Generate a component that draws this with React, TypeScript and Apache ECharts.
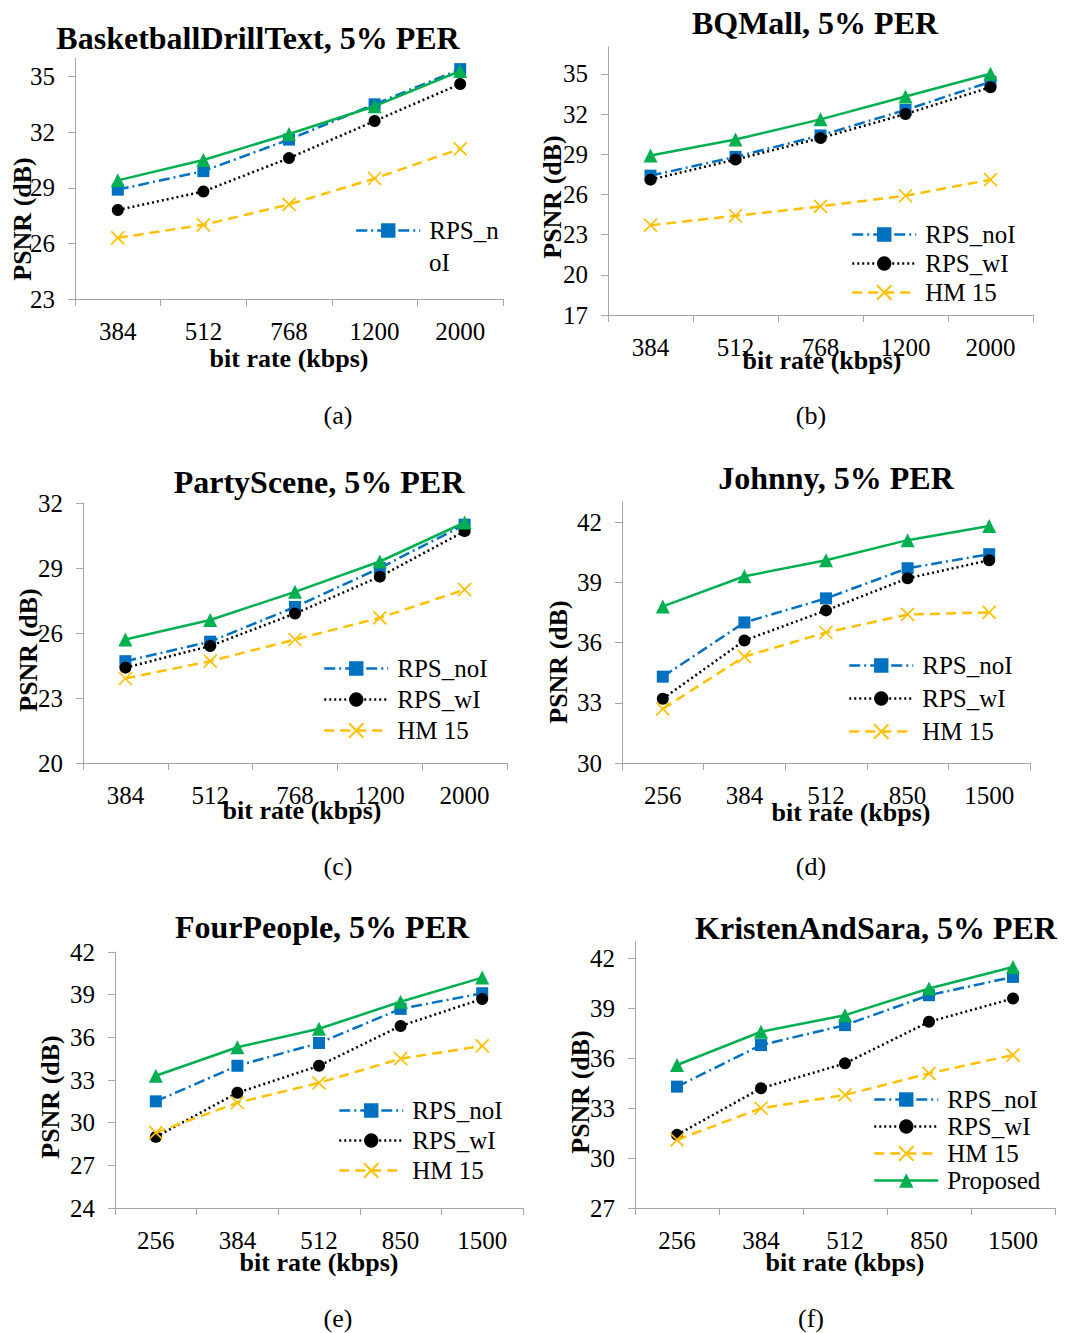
import React, { useEffect, useRef } from "react";
import * as echarts from "echarts";

// ---------- data ----------
const seriesNames = ["RPS_noI", "RPS_wI", "HM 15", "Proposed"];
const ratesHigh = ["384", "512", "768", "1200", "2000"];
const ratesLow = ["256", "384", "512", "850", "1500"];

const titles = [
  "BasketballDrillText, 5% PER",
  "BQMall, 5% PER",
  "PartyScene, 5% PER",
  "Johnny, 5% PER",
  "FourPeople, 5% PER",
  "KristenAndSara, 5% PER",
];
const captions = ["(a)", "(b)", "(c)", "(d)", "(e)", "(f)"];

// (a) BasketballDrillText
const aNoI = [28.9, 29.9, 31.6, 33.5, 35.4];
const aWI = [27.8, 28.8, 30.6, 32.6, 34.6];
const aHM = [26.3, 27.0, 28.1, 29.5, 31.1];
const aProp = [29.4, 30.5, 31.9, 33.4, 35.3];
const aTicks = [23, 26, 29, 32, 35];
// (b) BQMall
const bNoI = [27.4, 28.8, 30.4, 32.3, 34.4];
const bWI = [27.1, 28.6, 30.2, 32.0, 34.0];
const bHM = [23.7, 24.4, 25.1, 25.9, 27.1];
const bProp = [28.9, 30.1, 31.6, 33.3, 35.0];
const bTicks = [17, 20, 23, 26, 29, 32, 35];
// (c) PartyScene
const cNoI = [24.7, 25.6, 27.2, 29.0, 31.0];
const cWI = [24.4, 25.4, 26.9, 28.6, 30.7];
const cHM = [23.9, 24.7, 25.7, 26.7, 28.0];
const cProp = [25.7, 26.6, 27.9, 29.3, 31.1];
const cTicks = [20, 23, 26, 29, 32];
// (d) Johnny
const dNoI = [34.3, 37.0, 38.2, 39.7, 40.4];
const dWI = [33.2, 36.1, 37.6, 39.2, 40.1];
const dHM = [32.7, 35.3, 36.5, 37.4, 37.5];
const dProp = [37.8, 39.3, 40.1, 41.1, 41.8];
const dTicks = [30, 33, 36, 39, 42];
// (e) FourPeople
const eNoI = [31.5, 34.0, 35.6, 38.0, 39.1];
const eWI = [29.0, 32.1, 34.0, 36.8, 38.7];
const eHM = [29.3, 31.4, 32.8, 34.5, 35.4];
const eProp = [33.3, 35.3, 36.6, 38.5, 40.2];
const eTicks = [24, 27, 30, 33, 36, 39, 42];
// (f) KristenAndSara
const fNoI = [34.3, 36.8, 38.0, 39.8, 40.9];
const fWI = [31.4, 34.2, 35.7, 38.2, 39.6];
const fHM = [31.1, 33.0, 33.8, 35.1, 36.2];
const fProp = [35.6, 37.6, 38.6, 40.2, 41.5];
const fTicks = [27, 30, 33, 36, 39, 42];

const yRanges = [
  [23, 36],
  [17, 37],
  [20, 32],
  [30, 43],
  [24, 42],
  [27, 43],
];

// ---------- layout (not data) ----------
const FONT = '"Liberation Serif", "Times New Roman", serif';
const AXIS_GRAY = "#A6A6A6";

const panels = [
  {
    cats: ratesHigh, vals: [aNoI, aWI, aHM, aProp], ticks: aTicks,
    grid: { left: 75, top: 58, width: 428, height: 241 },
    titlePos: [258, 38], yNamePos: [22, 219], xNamePos: [289, 358], capPos: [338, 415],
    legend: { left: 350, top: 213, gap: 4, items: ["RPS_noI"] },
  },
  {
    cats: ratesHigh, vals: [bNoI, bWI, bHM, bProp], ticks: bTicks,
    grid: { left: 608, top: 47, width: 425, height: 268 },
    titlePos: [815, 23], yNamePos: [552, 197], xNamePos: [822, 360], capPos: [811, 415],
    legend: { left: 846, top: 217, gap: 4, items: ["RPS_noI", "RPS_wI", "HM 15"] },
  },
  {
    cats: ratesHigh, vals: [cNoI, cWI, cHM, cProp], ticks: cTicks,
    grid: { left: 83, top: 503, width: 424, height: 260 },
    titlePos: [319, 482], yNamePos: [28, 650], xNamePos: [302, 810], capPos: [338, 866],
    legend: { left: 318, top: 651, gap: 6, items: ["RPS_noI", "RPS_wI", "HM 15"] },
  },
  {
    cats: ratesLow, vals: [dNoI, dWI, dHM, dProp], ticks: dTicks,
    grid: { left: 622, top: 502, width: 408, height: 261 },
    titlePos: [836, 478], yNamePos: [558, 662], xNamePos: [851, 812], capPos: [811, 866],
    legend: { left: 843, top: 648, gap: 8, items: ["RPS_noI", "RPS_wI", "HM 15"] },
  },
  {
    cats: ratesLow, vals: [eNoI, eWI, eHM, eProp], ticks: eTicks,
    grid: { left: 115, top: 952, width: 408, height: 256 },
    titlePos: [322, 927], yNamePos: [50, 1097], xNamePos: [319, 1262], capPos: [338, 1318],
    legend: { left: 333, top: 1093, gap: 5, items: ["RPS_noI", "RPS_wI", "HM 15"] },
  },
  {
    cats: ratesLow, vals: [fNoI, fWI, fHM, fProp], ticks: fTicks,
    grid: { left: 635, top: 942, width: 420, height: 266 },
    titlePos: [876, 928], yNamePos: [580, 1092], xNamePos: [845, 1262], capPos: [811, 1318],
    legend: { left: 868, top: 1082, gap: 2, items: ["RPS_noI", "RPS_wI", "HM 15", "Proposed"] },
  },
];

const styles = [
  {
    color: "#0070C0", symbol: "rect", symbolSize: 12,
    lineType: [11, 4, 2, 4], width: 2.5,
  },
  {
    color: "#000000", symbol: "circle", symbolSize: 12,
    lineType: [2, 3], width: 2.5,
  },
  {
    color: "#FFC000", symbol: "path://M0 0L10 10M10 0L0 10", symbolSize: 13,
    lineType: [10, 6], width: 2.5,
  },
  {
    color: "#00B050", symbol: "triangle", symbolSize: 14,
    lineType: "solid", width: 2.5,
  },
];

function txt(text: string, pos: number[], font: string, extra: any = {}) {
  return {
    type: "text",
    x: pos[0],
    y: pos[1],
    ...extra,
    style: {
      text,
      font,
      fill: "#000",
      textAlign: extra.align || "center",
      textVerticalAlign: "middle",
      align: extra.align || "center",
      verticalAlign: "middle",
    },
  };
}

function buildOption() {
  const grid: any[] = [];
  const xAxis: any[] = [];
  const yAxis: any[] = [];
  const series: any[] = [];
  const legend: any[] = [];
  const graphic: any[] = [];

  panels.forEach((p, k) => {
    grid.push({ ...p.grid, containLabel: false });
    xAxis.push({
      type: "category",
      gridIndex: k,
      data: p.cats,
      boundaryGap: true,
      axisLine: { show: true, lineStyle: { color: AXIS_GRAY, width: 1 } },
      axisTick: { show: true, alignWithLabel: false, inside: false, length: 7, lineStyle: { color: AXIS_GRAY } },
      axisLabel: { interval: 0, margin: 20, color: "#000", fontFamily: FONT, fontSize: 25 },
      splitLine: { show: false },
    });
    yAxis.push({
      type: "value",
      gridIndex: k,
      min: yRanges[k][0],
      max: yRanges[k][1],
      axisLine: { show: true, lineStyle: { color: AXIS_GRAY, width: 1 } },
      axisTick: { show: true, inside: false, length: 7, customValues: p.ticks, lineStyle: { color: AXIS_GRAY } },
      axisLabel: { margin: 20, color: "#000", fontFamily: FONT, fontSize: 25, customValues: p.ticks },
      splitLine: { show: false },
    });
    seriesNames.forEach((name, s) => {
      const st = styles[s];
      series.push({
        type: "line",
        name,
        xAxisIndex: k,
        yAxisIndex: k,
        data: p.vals[s],
        symbol: st.symbol,
        symbolSize: st.symbolSize,
        showSymbol: true,
        lineStyle: { color: st.color, width: st.width, type: st.lineType },
        itemStyle: {
          color: st.color,
          borderColor: st.color,
          borderWidth: s === 2 ? 1.7 : 0,
        },
        z: 2 + s,
      });
    });
    legend.push({
      left: p.legend.left,
      top: p.legend.top,
      orient: "vertical",
      itemGap: p.legend.gap,
      itemWidth: 64,
      itemHeight: 18,
      data: p.legend.items,
      selectedMode: false,
      formatter: k === 0 ? () => "RPS_n" : (n: string) => n,
      textStyle: { fontFamily: FONT, fontSize: 25, color: "#000", padding: [0, 0, 0, 4] },
      lineStyle: { width: 2.5 },
    });

    graphic.push(txt(titles[k], p.titlePos, `bold 32px ${FONT}`));
    graphic.push(txt("PSNR (dB)", p.yNamePos, `bold 26px ${FONT}`, { rotation: Math.PI / 2 }));
    graphic.push(txt("bit rate (kbps)", p.xNamePos, `bold 26px ${FONT}`));
    graphic.push(txt(captions[k], p.capPos, `26px ${FONT}`));
  });

  graphic.push(txt("oI", [429, 262], `25px ${FONT}`, { align: "left" }));

  return {
    animation: false,
    backgroundColor: "#fff",
    grid,
    xAxis,
    yAxis,
    series,
    legend,
    graphic,
  };
}

export default function App() {
  const ref = useRef<HTMLDivElement>(null);
  useEffect(() => {
    if (!ref.current) return;
    const chart = echarts.init(ref.current, undefined, { renderer: "svg" });
    chart.setOption(buildOption() as any);
    return () => chart.dispose();
  }, []);
  return (
    <div
      ref={ref}
      style={{ position: "absolute", left: 0, top: 0, width: 1065, height: 1333 }}
    />
  );
}
